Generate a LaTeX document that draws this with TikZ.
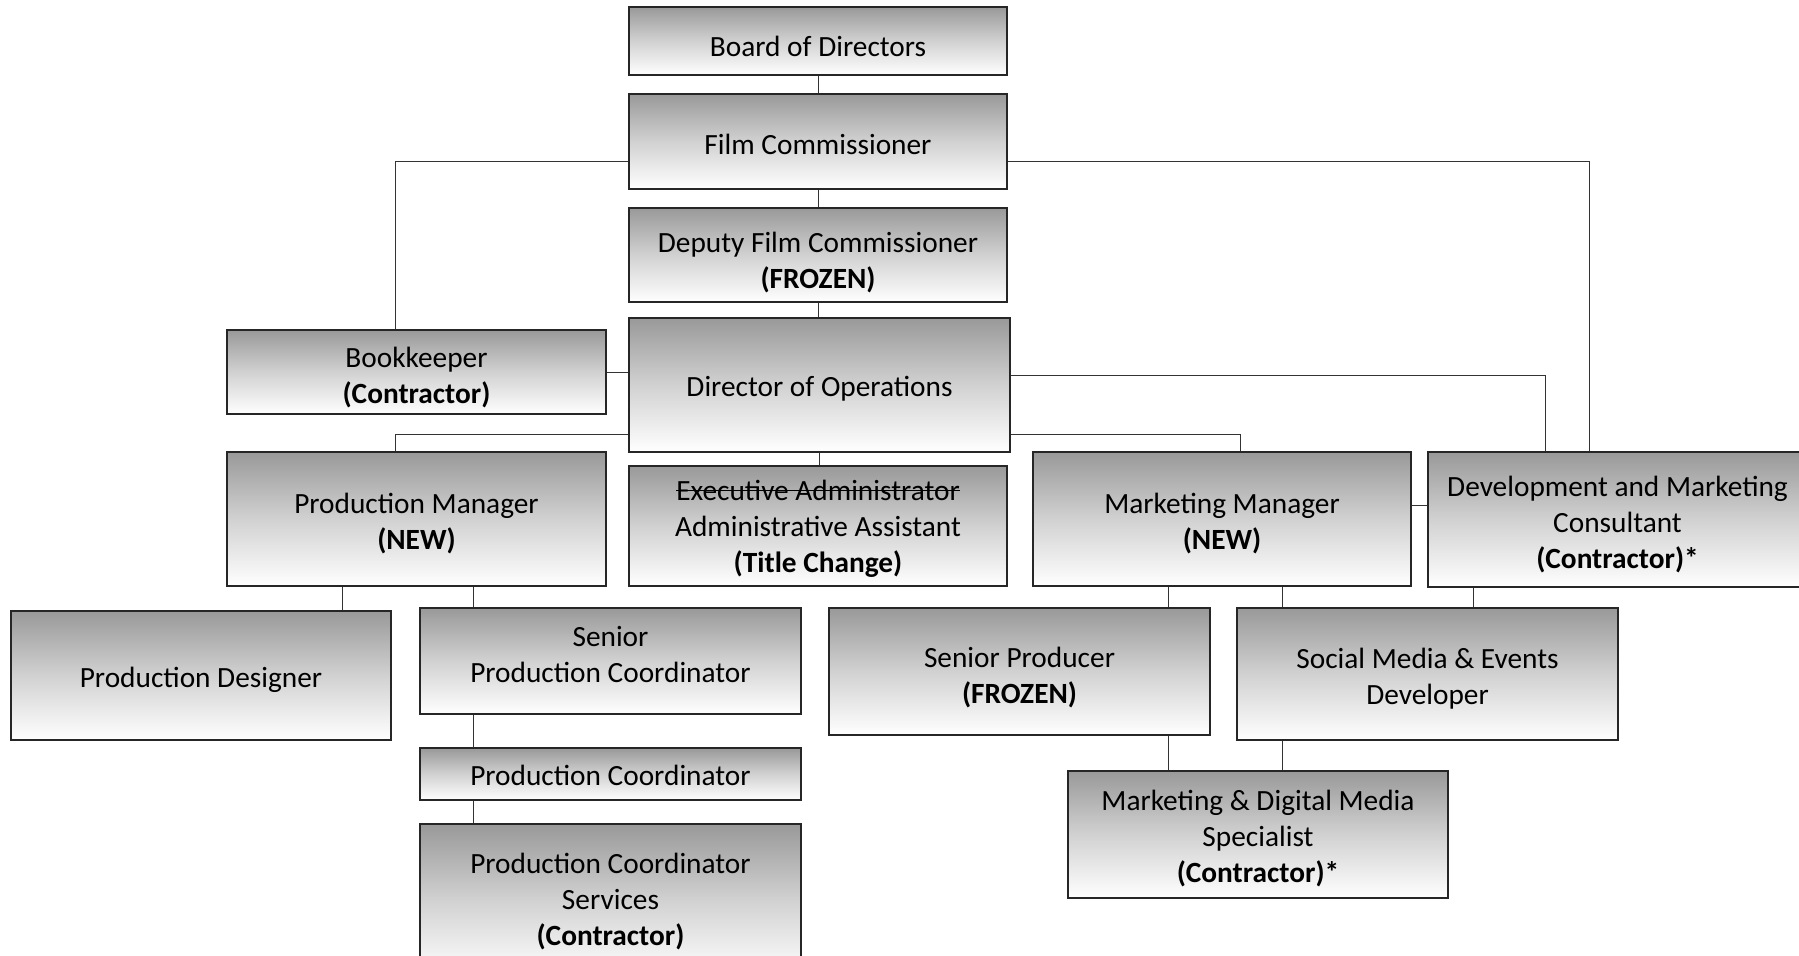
\documentclass[tikz,border=0pt]{standalone}
\usepackage{fontspec}
\setmainfont{Carlito}
\newcommand\mystrike[1]{\setbox0\hbox{#1}\rlap{\rule[0.3em]{\wd0}{0.8pt}}\box0}
\newcommand\tp[1]{\rule{0pt}{#1pt}}
\tikzset{
  box/.style={draw=black!85, line width=0.8pt, top color=black!40, bottom color=white, middle color=black!18,
    align=center, font=\fontsize{22}{27}\selectfont, inner sep=2pt, text=black},
  conn/.style={draw=black!80, line width=0.6pt}
}
\begin{document}
\begin{tikzpicture}[x=0.75pt, y=-0.75pt]
\useasboundingbox (0,0) rectangle (1799,956);
\fill[white] (0,0) rectangle (1799,956);

\node[box, minimum width=283.5pt, minimum height=51pt] (board) at (818,41) {\tp{24}Board of Directors};
\node[box, minimum width=283.5pt, minimum height=71.25pt] (fc) at (818,141.5) {\tp{19}Film Commissioner};
\node[box, minimum width=283.5pt, minimum height=70.5pt] (dep) at (818,255) {\tp{27}Deputy Film Commissioner\\\textbf{(FROZEN)}};
\node[box, minimum width=285.75pt, minimum height=100.5pt] (doo) at (819.5,385) {\tp{20.5}Director of Operations};
\node[box, minimum width=284.25pt, minimum height=63pt] (book) at (416.5,372) {\tp{23}Bookkeeper\\\textbf{(Contractor)}};
\node[box, minimum width=284.25pt, minimum height=100.5pt] (pm) at (416.5,519) {\tp{21.5}Production Manager\\\textbf{(NEW)}};
\node[box, minimum width=283.5pt, minimum height=90pt] (exec) at (818,526) {\tp{19}\mystrike{Executive Administrator}\\Administrative Assistant\\\textbf{(Title Change)}};
\node[box, minimum width=283.5pt, minimum height=100.5pt] (mm) at (1222,519) {\tp{21.5}Marketing Manager\\\textbf{(NEW)}};
\node[box, minimum width=284.25pt, minimum height=101.25pt] (dev) at (1617.5,519.5) {\tp{22.5}Development and Marketing\\Consultant\\\textbf{(Contractor)*}};
\node[box, minimum width=285pt, minimum height=96.75pt] (pd) at (201,675.5) {\tp{22.5}Production Designer};
\node[box, minimum width=285.75pt, minimum height=79.5pt] (spc) at (610.5,661) {Senior\\Production Coordinator\rule[-10pt]{0pt}{0pt}};
\node[box, minimum width=285.75pt, minimum height=39pt] (pc) at (610.5,774) {\tp{17}Production Coordinator};
\node[box, minimum width=285.75pt, minimum height=114pt] (pcs) at (610.5,900) {\tp{17}Production Coordinator\\Services\\\textbf{(Contractor)}};
\node[box, minimum width=285.75pt, minimum height=95.25pt] (sp) at (1019.5,671.5) {\tp{24}Senior Producer\\\textbf{(FROZEN)}};
\node[box, minimum width=285.75pt, minimum height=99pt] (smed) at (1427.5,674) {\tp{22.5}Social Media \& Events\\Developer};
\node[box, minimum width=285pt, minimum height=95.25pt] (mdms) at (1258,834.5) {\tp{21.5}Marketing \& Digital Media\\Specialist\\\textbf{(Contractor)*}};

% connectors
\draw[conn] (board.south) -- (fc.north);
\draw[conn] (fc.south) -- (dep.north);
\draw[conn] (dep.south) -- (dep.south |- doo.north);
\draw[conn] ([yshift=-14.6pt]fc.west) -| ([xshift=-16.1pt]book.north);
\draw[conn] ([yshift=-14.6pt]fc.east) -| ([xshift=-21.4pt]dev.north);
\draw[conn] (book.east) -- (book.east -| doo.west);
\draw[conn] ([yshift=7.5pt]doo.east) -| ([xshift=-54.4pt]dev.north);
\draw[conn] ([yshift=-36.75pt]doo.west) -| ([xshift=-16.1pt]pm.north);
\draw[conn] ([yshift=-36.75pt]doo.east) -| ([xshift=13.5pt]mm.north);
\draw[conn] (doo.south) -- (doo.south |- exec.north);
\draw[conn] ([yshift=10.5pt]mm.east) -- ([yshift=10.5pt]mm.east -| dev.west);
\draw[conn] ([xshift=-55.9pt]pm.south) -- ([xshift=-55.9pt]pm.south |- pd.north);
\draw[conn] ([xshift=42.4pt]pm.south) -- ([xshift=42.4pt]pm.south |- spc.north);
\draw[conn] ([xshift=-103.1pt]spc.south) -- ([xshift=-103.1pt]pc.north);
\draw[conn] ([xshift=-103.1pt]pc.south) -- ([xshift=-103.1pt]pcs.north);
\draw[conn] ([xshift=-40.5pt]mm.south) -- ([xshift=-40.5pt]mm.south |- sp.north);
\draw[conn] ([xshift=45pt]mm.south) -- ([xshift=45pt]mm.south |- smed.north);
\draw[conn] ([xshift=-108.4pt]dev.south) -- ([xshift=-108.4pt]dev.south |- smed.north);
\draw[conn] ([xshift=111.4pt]sp.south) -- ([xshift=111.4pt]sp.south |- mdms.north);
\draw[conn] ([xshift=-109.1pt]smed.south) -- ([xshift=-109.1pt]smed.south |- mdms.north);
\end{tikzpicture}
\end{document}
